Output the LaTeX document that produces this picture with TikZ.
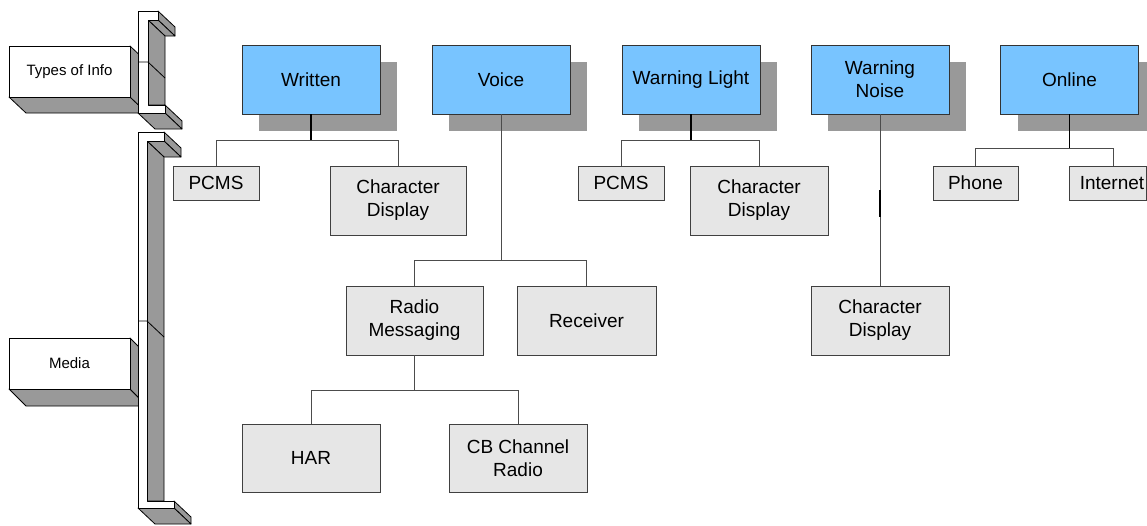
\documentclass[tikz,border=0pt]{standalone}
\usepackage{fontspec}
\setmainfont{Liberation Sans}
\usetikzlibrary{shadows,calc}
\definecolor{topblue}{RGB}{120,196,255}
\definecolor{leafgray}{RGB}{230,230,230}
\definecolor{shadegray}{RGB}{153,153,153}
\tikzset{
  topbox/.style={draw=black!80, line width=0.8pt, fill=topblue, minimum width=138pt,
    minimum height=69pt, inner sep=0pt, align=center, font=\fontsize{19}{23}\selectfont,
    general shadow={fill=shadegray, draw=none, shadow xshift=17pt, shadow yshift=-17pt}},
  leaf/.style={draw=black!75, line width=0.8pt, fill=leafgray, inner sep=0pt,
    align=center, font=\fontsize{19}{23}\selectfont},
  smallleaf/.style={leaf, minimum width=86pt, minimum height=34pt},
  bigleaf/.style={leaf, minimum width=138pt, minimum height=69pt},
  stem/.style={line width=1.6pt, black},
  wire/.style={line width=0.8pt, black!70},
  face/.style={draw=black, line width=0.8pt, fill=shadegray, line join=round},
  front/.style={draw=black, line width=0.8pt, fill=white, line join=round},
  sidebox/.style={front, minimum width=121pt, minimum height=51pt, inner sep=0pt,
    font=\fontsize{15}{18}\selectfont}
}
\begin{document}
\begin{tikzpicture}[x=1pt,y=-1pt]
\useasboundingbox (0,0) rectangle (1147,525);

% ---------- side boxes (3D) ----------
\draw[face] (9,97) -- (130,97) -- (147,113) -- (26,113) -- cycle;
\draw[face] (130,46) -- (147,62) -- (147,113) -- (130,97) -- cycle;
\node[sidebox] (types) at (69.5,71.5) {Types of Info};

\draw[face] (9,389) -- (130,389) -- (147,406) -- (26,406) -- cycle;
\draw[face] (130,338) -- (147,355) -- (147,406) -- (130,389) -- cycle;
\node[sidebox] (media) at (69.5,363.5) {Media};

% ---------- upper bracket ----------
\draw[face] (158,11) -- (175,27) -- (175,36) -- (158,20) -- cycle;
\draw[face] (148,20) -- (158,20) -- (175,36) -- (165,36) -- cycle;
\draw[face] (148,20) -- (165,36) -- (165,105) -- (148,105) -- cycle;
\draw[face] (165,105) -- (182,121) -- (182,129) -- (165,113) -- cycle;
\draw[face] (138,113) -- (165,113) -- (182,129) -- (155,129) -- cycle;
\draw[front] (138,11) -- (158,11) -- (158,20) -- (148,20) -- (148,105) -- (165,105)
  -- (165,113) -- (138,113) -- cycle;
\draw[line width=0.8pt] (138,62) -- (148,62) -- (165,78);

% ---------- lower bracket ----------
\draw[face] (164,132) -- (181,148) -- (181,157) -- (164,141) -- cycle;
\draw[face] (147,141) -- (164,141) -- (181,157) -- (164,157) -- cycle;
\draw[face] (147,141) -- (164,157) -- (164,501) -- (147,501) -- cycle;
\draw[face] (174,501) -- (191,517) -- (191,524) -- (174,508) -- cycle;
\draw[face] (138,508) -- (174,508) -- (191,524) -- (155,524) -- cycle;
\draw[front] (138,132) -- (164,132) -- (164,141) -- (147,141) -- (147,501) -- (174,501)
  -- (174,508) -- (138,508) -- cycle;
\draw[line width=0.8pt] (138,321) -- (147,321) -- (164,337);

% ---------- top level ----------
\node[topbox] (written) at (311,79.5) {Written};
\node[topbox] (voice)   at (501,79.5) {Voice};
\node[topbox] (wlight)  at (691,79.5) {Warning Light};
\node[topbox] (wnoise)  at (880,79.5) {Warning\\Noise};
\node[topbox] (online)  at (1069.5,79.5) {Online};

% ---------- leaves ----------
\node[smallleaf] (pcms1) at (216,183) {PCMS};
\node[bigleaf, minimum width=136pt] (cd1) at (398,200.5) {Character\\Display};
\node[bigleaf, minimum width=137pt] (radio) at (414.5,320.5) {Radio\\Messaging};
\node[bigleaf, minimum width=139pt] (receiver) at (586.5,320.5) {Receiver};
\node[bigleaf, minimum height=68pt] (har) at (311,458) {HAR};
\node[bigleaf, minimum height=68pt] (cb) at (518,458) {CB Channel\\Radio};
\node[smallleaf] (pcms2) at (621,183) {PCMS};
\node[bigleaf] (cd2) at (759,200.5) {Character\\Display};
\node[bigleaf] (cd3) at (880,320.5) {Character\\Display};
\node[smallleaf, minimum width=85pt] (phone) at (975.5,183) {Phone};
\node[smallleaf, minimum width=77pt] (internet) at (1107.5,183) {\hspace*{9pt}Internet};

% ---------- connectors ----------
\draw[stem] (written.south) -- ++(0,26) coordinate (wb);
\draw[wire] (pcms1.north) |- (wb) -| (cd1.north);

\draw[wire] (voice.south) -- ++(0,146) coordinate (vb);
\draw[wire] (radio.north) |- (vb) -| (receiver.north);

\draw[wire] (radio.south) -- ++(0,35) coordinate (rb);
\draw[wire] (har.north) |- (rb) -| (cb.north);

\draw[stem] (wlight.south) -- ++(0,26) coordinate (lb);
\draw[wire] (pcms2.north) |- (lb) -| (cd2.north);

\draw[wire] (wnoise.south) -- (cd3.north);
\draw[stem] ($(wnoise.south)+(0,76)$) -- ($(wnoise.south)+(0,103)$);

\draw[stem] (online.south) -- ++(0,34) coordinate (ob);
\coordinate (inet) at ($(internet.north)+(5.5,0)$);
\draw[wire] (phone.north) |- (ob) -| (inet);
\end{tikzpicture}
\end{document}
